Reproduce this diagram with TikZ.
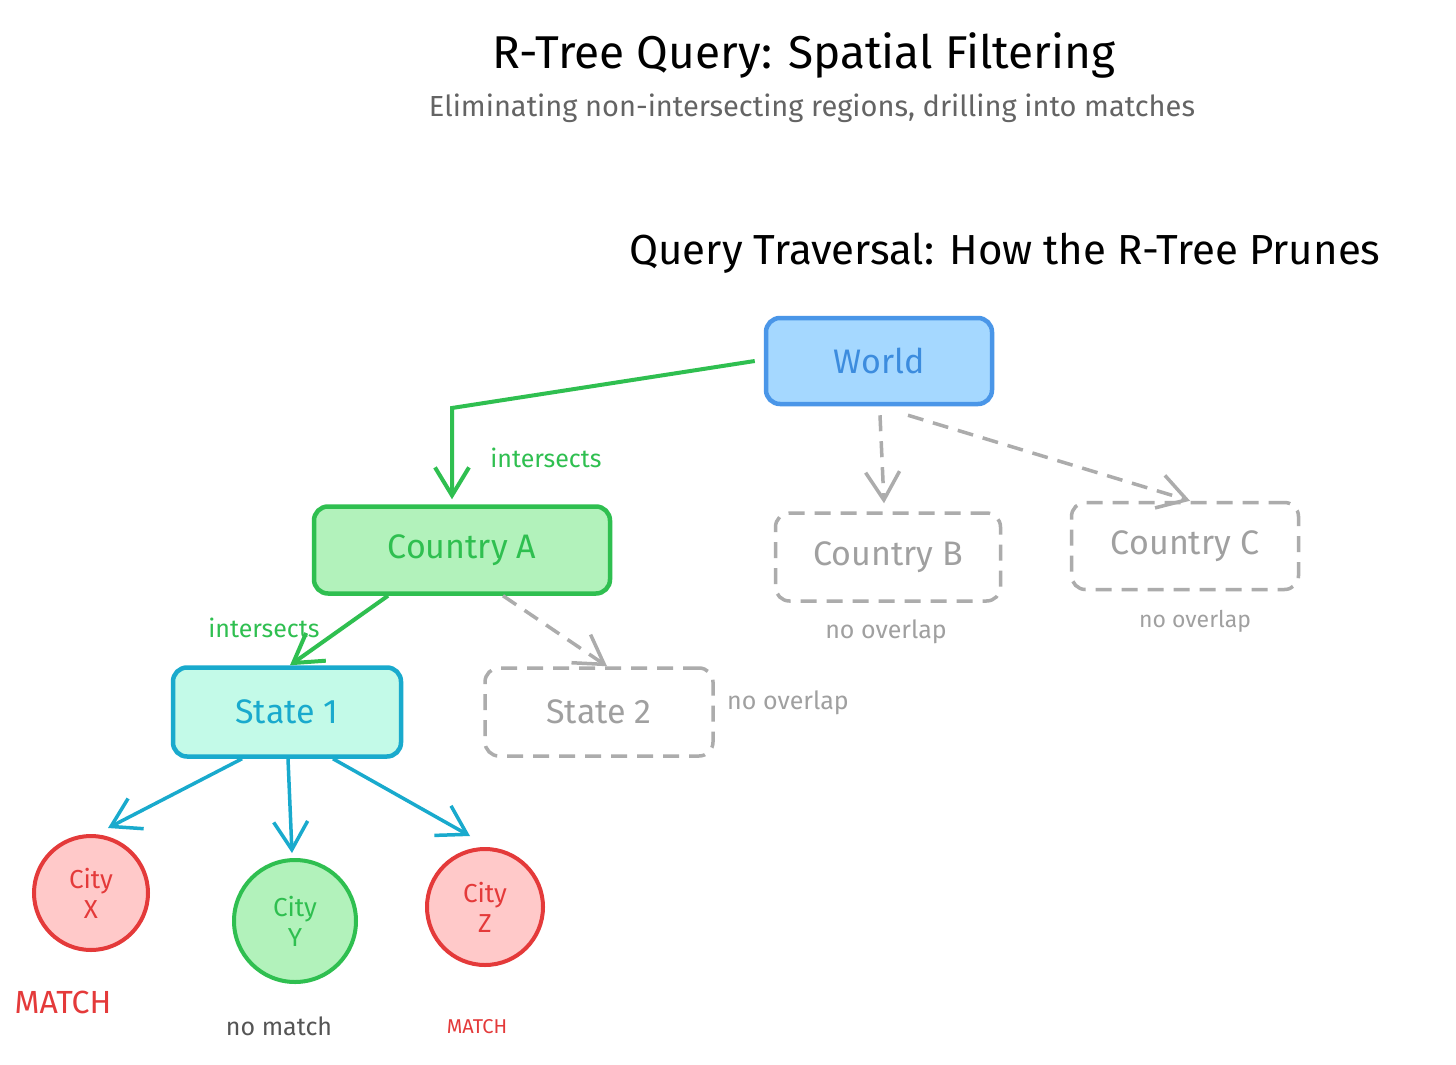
\documentclass[tikz,border=0pt]{standalone}
\usepackage{fontspec}
\setmainfont{Fira Sans}
\usetikzlibrary{arrows.meta}
\definecolor{gstroke}{RGB}{47,191,80}
\definecolor{gfill}{HTML}{B2F2BB}
\definecolor{bstroke}{RGB}{74,150,232}
\definecolor{bfill}{HTML}{A5D8FF}
\definecolor{btext}{RGB}{60,140,222}
\definecolor{cstroke}{RGB}{25,170,205}
\definecolor{cfill}{HTML}{C3FAE8}
\definecolor{rstroke}{RGB}{228,58,58}
\definecolor{rfill}{HTML}{FFC9C9}
\definecolor{gline}{RGB}{172,172,172}
\definecolor{gtext}{RGB}{160,160,160}
\definecolor{subgray}{RGB}{100,100,100}
\definecolor{dgray}{RGB}{85,85,85}
\tikzset{
  box/.style={rectangle, rounded corners=14pt, line width=4.5pt, align=center, inner sep=0pt},
  hit/.style={box, draw=gstroke, fill=gfill, text=gstroke},
  worldbox/.style={box, draw=bstroke, fill=bfill, text=btext},
  statebox/.style={box, draw=cstroke, fill=cfill, text=cstroke},
  prunebox/.style={box, draw=gline, line width=3.5pt, dash pattern=on 16pt off 10pt, text=gtext},
  city/.style={circle, line width=4pt, align=center, inner sep=0pt, font=\fontsize{26}{30}\selectfont},
  redcity/.style={city, draw=rstroke, fill=rfill, text=rstroke},
  greencity/.style={city, draw=gstroke, fill=gfill, text=gstroke},
  tip/.style={-{Straight Barb[length=28pt,width=34pt]}},
  hitarrow/.style={draw=gstroke, line width=4pt, tip},
  cityarrow/.style={draw=cstroke, line width=3.5pt, tip},
  prunearrow/.style={draw=gline, line width=3.5pt, dash pattern=on 16pt off 10pt, tip},
  lbl/.style={font=\fontsize{25}{28}\selectfont, inner sep=0pt},
  boxfont/.style={font=\fontsize{34}{38}\selectfont},
}
\begin{document}
\begin{tikzpicture}[x=1pt,y=-1pt]
\useasboundingbox[fill=white] (0,0) rectangle (1456,1065);

% titles
\node[font=\fontsize{46}{50}\selectfont, inner sep=0pt] (title) at (804,55) {R-Tree Query: Spatial Filtering};
\node[font=\fontsize{29}{32}\selectfont, text=subgray, inner sep=0pt] (subtitle) at (812,108) {Eliminating non-intersecting regions, drilling into matches};
\node[font=\fontsize{42}{46}\selectfont, inner sep=0pt] (heading) at (1005,253) {Query Traversal: How the R-Tree Prunes};

% nodes
\node[worldbox, boxfont, minimum width=226pt, minimum height=86pt] (world) at (879,361) {World};
\node[hit, boxfont, minimum width=296pt, minimum height=87pt] (countryA) at (462,550) {Country A};
\node[prunebox, boxfont, minimum width=225pt, minimum height=88pt] (countryB) at (888,557) {Country B};
\node[prunebox, boxfont, minimum width=227pt, minimum height=87pt] (countryC) at (1185,546) {Country C};
\node[statebox, boxfont, minimum width=228pt, minimum height=89pt] (state1) at (287,712) {State 1};
\node[prunebox, boxfont, minimum width=228pt, minimum height=88pt] (state2) at (599,712) {State 2};
\node[redcity, minimum size=114pt] (cityX) at (91,893) {City\\X};
\node[greencity, minimum size=122pt] (cityY) at (295,921) {City\\Y};
\node[redcity, minimum size=116pt] (cityZ) at (485,907) {City\\Z};

% labels
\node[lbl, text=gstroke] (lab1) at (546,458) {intersects};
\node[lbl, text=gstroke] (lab2) at (264,628) {intersects};
\node[lbl, text=gtext] (labB) at (886,632) {no overlap};
\node[lbl, text=gtext, font=\fontsize{23}{26}\selectfont] (labC) at (1195,621) {no overlap};
\node[lbl, text=gtext, anchor=west] (lab2s) at (727,703) {no overlap};
\node[lbl, text=rstroke, font=\fontsize{32}{36}\selectfont] (mX) at (63,1002) {MATCH};
\node[lbl, text=dgray] (mY) at (279,1026) {no match};
\node[lbl, text=rstroke, font=\fontsize{20}{22}\selectfont] (mZ) at (477,1027) {MATCH};

% connectors
\coordinate (bendA) at (452,408);
\draw[hitarrow] ([xshift=-9pt]world.west) -- (bendA) -- ([yshift=5pt]bendA |- countryA.north);
\draw[hitarrow] ([xshift=-74pt]countryA.south) -- ([xshift=3pt]state1.north);
\draw[prunearrow] ([xshift=41pt]countryA.south) -- ([xshift=8pt]state2.north);
\draw[prunearrow] ([xshift=1pt,yshift=-9pt]world.south) -- ([xshift=-4pt,yshift=8pt]countryB.north);
\draw[prunearrow] ([xshift=29pt,yshift=-9pt]world.south) -- ([xshift=5pt]countryC.north);
\draw[cityarrow] ([xshift=-45pt]state1.south) -- ([xshift=17pt,yshift=6pt]cityX.north);
\draw[cityarrow] ([xshift=1pt]state1.south) -- ([xshift=-3pt,yshift=5pt]cityY.north);
\draw[cityarrow] ([xshift=46pt]state1.south) -- ([xshift=-15pt,yshift=11pt]cityZ.north);
\end{tikzpicture}
\end{document}
